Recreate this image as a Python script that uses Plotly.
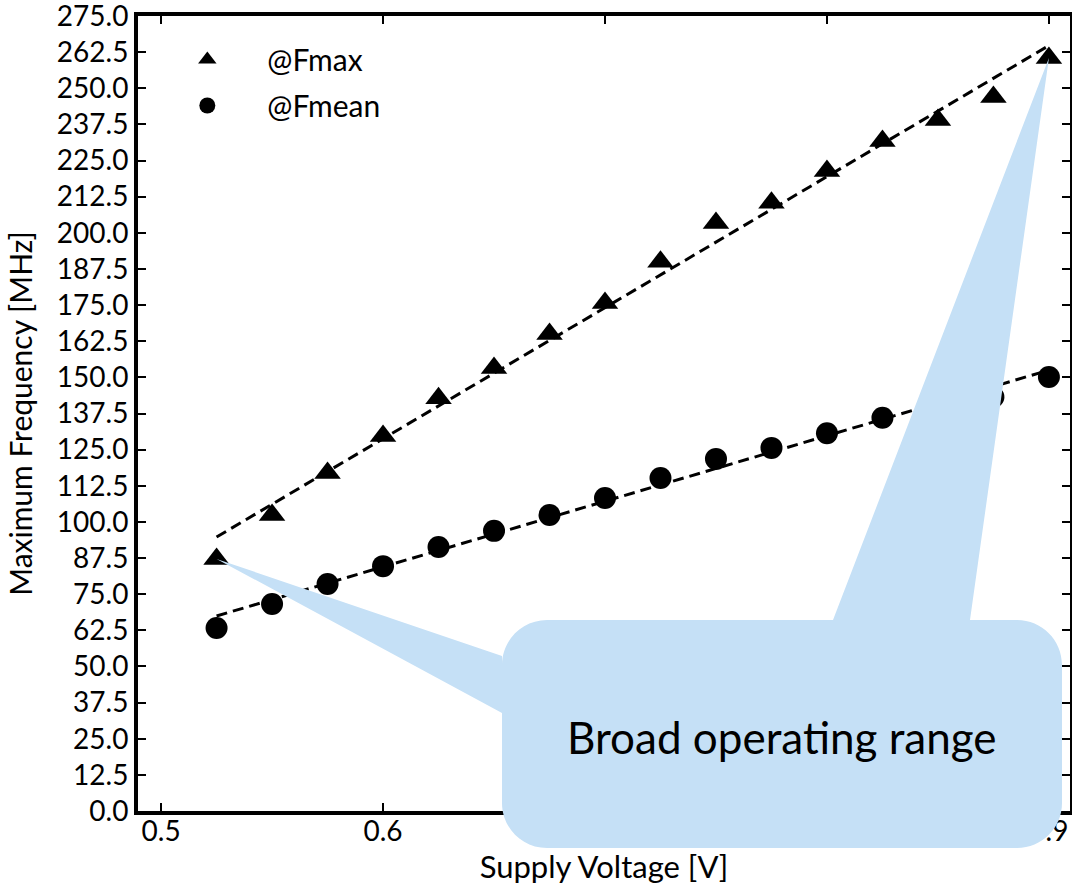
import numpy as np
import plotly.graph_objects as go

# ---------------- data ----------------
voltage = [0.525, 0.55, 0.575, 0.6, 0.625, 0.65, 0.675, 0.7,
           0.725, 0.75, 0.775, 0.8, 0.825, 0.85, 0.875, 0.9]
f_max = [87.2, 102.4, 116.9, 129.7, 142.8, 153.2, 165.0, 175.7,
         190.0, 203.4, 210.4, 221.4, 231.8, 239.0, 247.0, 260.5]
f_mean = [63.3, 71.6, 78.5, 84.7, 91.3, 96.9, 102.4, 108.3,
          115.2, 121.8, 125.6, 130.7, 136.0, 140.0, 143.2, 150.1]
x_ticks = [0.5, 0.6, 0.7, 0.8, 0.9]
y_ticks = [i * 12.5 for i in range(23)]
series_names = ["@Fmax", "@Fmean"]
callout_text = "Broad operating range"

# ---------------- layout geometry ----------------
W, H = 1072, 893
ML, MR, MT, MB = 138, 2, 16, 82
X_RANGE = [0.4896, 0.9095]
Y_RANGE = [0, 275]
FONT = "Lato, 'Open Sans', sans-serif"

plot_w = W - ML - MR
plot_h = H - MT - MB


def px_to_paper(px, py):
    return (px - ML) / plot_w, (H - MB - py) / plot_h


def data_to_paper(xv, yv):
    return ((xv - X_RANGE[0]) / (X_RANGE[1] - X_RANGE[0]),
            (yv - Y_RANGE[0]) / (Y_RANGE[1] - Y_RANGE[0]))


fig = go.Figure()

# fit lines
xv = np.array(voltage)
x_ends = np.array([voltage[0], voltage[-1]])
for ys in (f_max, f_mean):
    coef = np.polyfit(xv, np.array(ys), 1)
    fig.add_trace(go.Scatter(
        x=x_ends, y=np.polyval(coef, x_ends), mode="lines",
        line=dict(color="black", width=3, dash="11px,6px"),
        showlegend=False, hoverinfo="skip"))

fig.add_trace(go.Scatter(
    x=voltage, y=f_max, mode="markers", name=series_names[0],
    marker=dict(symbol="triangle-up", size=23, color="black"),
    legendgroup="a"))
fig.add_trace(go.Scatter(
    x=voltage, y=f_mean, mode="markers", name=series_names[1],
    marker=dict(symbol="circle", size=22, color="black"),
    legendgroup="b"))

# ---------------- callout shape ----------------
rx0, rx1, ry0, ry1, r = 502, 1062, 620, 848, 45
tip1 = data_to_paper(voltage[0], f_max[0])
tip2 = data_to_paper(voltage[-1], f_max[-1])
k = 0.5523


def P(px, py):
    a, b = px_to_paper(px, py)
    return f"{a:.5f},{b:.5f}"


def T(t):
    return f"{t[0]:.5f},{t[1]:.5f}"


path = (
    f"M{P(rx0 + r, ry0)} L{P(833, ry0)} L{T(tip2)} L{P(970, ry0)} "
    f"L{P(rx1 - r, ry0)} "
    f"C{P(rx1 - r + k * r, ry0)} {P(rx1, ry0 + r - k * r)} {P(rx1, ry0 + r)} "
    f"L{P(rx1, ry1 - r)} "
    f"C{P(rx1, ry1 - r + k * r)} {P(rx1 - r + k * r, ry1)} {P(rx1 - r, ry1)} "
    f"L{P(rx0 + r, ry1)} "
    f"C{P(rx0 + r - k * r, ry1)} {P(rx0, ry1 - r + k * r)} {P(rx0, ry1 - r)} "
    f"L{P(rx0, 713)} L{T(tip1)} L{P(rx0, 656)} "
    f"L{P(rx0, ry0 + r)} "
    f"C{P(rx0, ry0 + r - k * r)} {P(rx0 + r - k * r, ry0)} {P(rx0 + r, ry0)} Z"
)
fig.add_shape(type="path", path=path, xref="paper", yref="paper",
              fillcolor="rgb(197,224,246)", line=dict(width=0), layer="above")

tx, ty = px_to_paper(782, 737)
fig.add_annotation(x=tx, y=ty, xref="paper", yref="paper", text=callout_text,
                   showarrow=False, font=dict(family=FONT, size=44, color="black"),
                   xanchor="center", yanchor="middle")

axis_common = dict(
    showline=True, linewidth=4, linecolor="black", mirror="ticks",
    ticks="inside", tickwidth=1.5, tickcolor="black", ticklen=8,
    showgrid=False, zeroline=False, ticklabeloverflow="allow",
    automargin=False,
    tickfont=dict(family=FONT, size=28, color="black"),
)

fig.update_xaxes(range=X_RANGE, tickvals=x_ticks,
                 ticktext=[f"{v:.1f}" for v in x_ticks],
                 ticklabelstandoff=-8,
                 title=dict(text="Supply Voltage [V]",
                            font=dict(family=FONT, size=31, color="black"),
                            standoff=10),
                 **axis_common)
fig.update_yaxes(range=Y_RANGE, tickvals=y_ticks,
                 ticktext=[f"{v:.1f}" for v in y_ticks],
                 title=dict(text="Maximum Frequency [MHz]",
                            font=dict(family=FONT, size=30, color="black"),
                            standoff=16),
                 **axis_common)

fig.update_layout(
    width=W, height=H,
    margin=dict(l=ML, r=MR, t=MT, b=MB, pad=0, autoexpand=False),
    paper_bgcolor="white", plot_bgcolor="white",
    font=dict(family=FONT, color="black"),
    legend=dict(x=0.01, y=0.978, xanchor="left", yanchor="top",
                bgcolor="rgba(0,0,0,0)", borderwidth=0,
                font=dict(family=FONT, size=30, color="black"),
                itemwidth=110, tracegroupgap=4),
)

fig.write_html("out.html", config={"displayModeBar": False},
               post_script="document.body.style.margin='0';")
